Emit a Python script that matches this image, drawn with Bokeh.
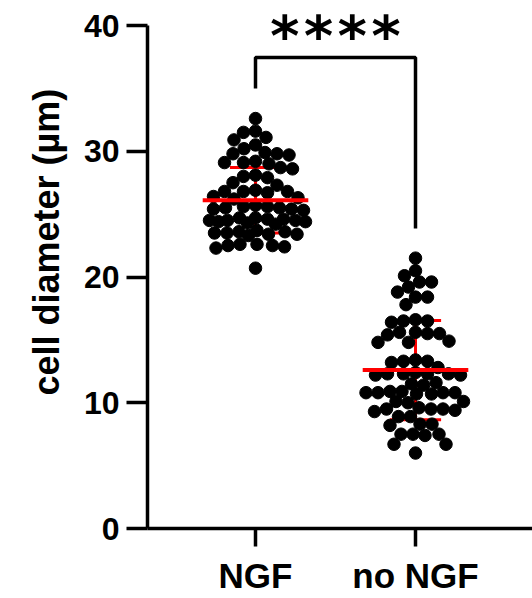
import numpy as np
from bokeh.plotting import figure
from bokeh.models import Range1d, FixedTicker, LinearAxis, Title
from bokeh.core.properties import value
from bokeh.embed import file_html
from bokeh.resources import INLINE

# ---------------- data ----------------
groups = ["NGF", "no NGF"]
group_pos = [1, 2]

ngf = [32.6, 31.6, 31.5, 31.1, 30.9, 30.5, 30.2,
       29.9, 29.8, 29.7, 29.8,
       29.2, 29.1, 29.0, 29.1,
       28.7, 28.6,
       28.1, 28.0, 27.9,
       27.5, 27.3,
       26.9, 26.8, 26.8, 26.7, 26.8,
       26.4, 26.3, 26.2,
       25.7, 25.5, 25.6, 25.4, 25.5, 25.3, 25.6, 25.4,
       24.7, 24.5, 24.6, 24.4, 24.5, 24.3, 24.6, 24.5, 24.4, 24.7, 24.2,
       23.6, 23.5, 23.4, 23.6, 23.5, 23.3, 23.7, 23.4,
       22.6, 22.5, 22.4, 22.6, 22.3, 22.5,
       20.7]

no_ngf = [21.5, 20.5, 20.1, 19.6, 19.6, 19.2, 18.8, 18.4, 18.4, 17.8,
          16.6, 16.5, 16.5, 16.4,
          15.5, 15.6, 15.5, 15.4, 15.6,
          14.8, 14.8, 14.9,
          13.3, 13.4, 13.2, 13.3,
          12.8, 12.3, 12.3, 12.2, 12.3, 12.4, 12.3, 12.2,
          11.5, 11.6, 11.4,
          10.8, 10.8, 10.7, 10.9, 10.8, 10.7, 10.8, 10.9,
          10.1, 10.0, 10.1,
          9.5, 9.4, 9.6, 9.5, 9.3, 9.5,
          8.9, 8.9,
          8.3, 8.3, 8.2,
          7.5, 7.5, 7.4, 7.5,
          6.7, 6.7,
          6.0]

means = [26.1, 12.6]
sds = [2.6, 3.95]

y_ticks = [0, 10, 20, 30, 40]
y_title = "cell diameter (µm)"
stars = "****"
bracket_left_low = 35.0
bracket_right_low = 23.85
bracket_top = 37.45
stars_top = 41.8

# ---------------- layout constants ----------------
W, H = 532, 598
BL, BR, BT, BB = 147, 0, 0, 70
X0 = 0.325
PX_X = 160.0
X1 = X0 + (W - BL - BR) / PX_X
PX_Y = 503.0 / 40.0
Y0 = 0.0
Y1 = (H - BT - BB) / PX_Y
DOT = 12.5


def swarm(vals, d=12.0, half=50.0):
    vals = np.asarray(vals, dtype=float)
    order = np.argsort(vals, kind="stable")[::-1]
    cand = np.arange(-half, half + 0.01, 0.5)
    cand = cand[np.argsort(np.abs(cand), kind="stable")]
    placed = []
    xs = np.zeros(len(vals))
    for i in order:
        y = vals[i] * PX_Y
        near = [(px, py) for px, py in placed if abs(py - y) < d]
        if not near:
            x = 0.0
        else:
            P = np.array(near)
            dist = np.sqrt((cand[:, None] - P[:, 0]) ** 2 + (y - P[:, 1]) ** 2).min(axis=1)
            ok = np.where(dist >= d)[0]
            x = cand[ok[0]] if len(ok) else cand[np.argmax(dist)]
        placed.append((x, y))
        xs[i] = x
    return xs / PX_X


FONT = "Liberation Sans"

p = figure(width=W, height=H, output_backend="svg", toolbar_location=None,
           x_range=Range1d(X0, X1), y_range=Range1d(Y0, Y1),
           min_border_left=BL, min_border_right=BR, min_border_top=BT,
           min_border_bottom=BB, x_axis_type=None, y_axis_type=None)
p.outline_line_color = None
p.grid.visible = False
p.background_fill_color = "white"
p.border_fill_color = "white"

# axes
yaxis = LinearAxis(bounds=(0, 40), ticker=FixedTicker(ticks=y_ticks))
xaxis = LinearAxis(ticker=FixedTicker(ticks=group_pos),
                   major_label_overrides={gp: g for gp, g in zip(group_pos, groups)})
for ax, tick_len, fs, so in ((yaxis, 21, "32px", 7), (xaxis, 18, "35px", 9)):
    ax.axis_line_width = 3.5
    ax.axis_line_color = "black"
    ax.major_tick_line_width = 3.5
    ax.major_tick_line_color = "black"
    ax.major_tick_out = tick_len
    ax.major_tick_in = 0
    ax.minor_tick_line_color = None
    ax.major_label_text_font = FONT
    ax.major_label_text_font_style = "bold"
    ax.major_label_text_font_size = fs
    ax.major_label_text_color = "black"
    ax.major_label_standoff = so
p.add_layout(yaxis, "left")
p.add_layout(xaxis, "below")

# y title (a side title, so it can be nudged up like in the reference)
p.add_layout(Title(text=y_title, align="left", offset=133, standoff=28,
                   text_font=FONT, text_font_style="bold", text_font_size="36px",
                   text_color="black"), "left")

# SD whiskers (behind the dots)
gx = np.array(group_pos, dtype=float)
m = np.array(means)
s = np.array(sds)
p.segment(x0=gx, y0=m - s, x1=gx, y1=m + s, line_color="#ff0000", line_width=3)
p.segment(x0=gx - 0.16, y0=m + s, x1=gx + 0.16, y1=m + s, line_color="#ff0000", line_width=3)
p.segment(x0=gx - 0.16, y0=m - s, x1=gx + 0.16, y1=m - s, line_color="#ff0000", line_width=3)

# dots
for gp, vals in zip(group_pos, (ngf, no_ngf)):
    xs = gp + swarm(vals)
    p.scatter(x=xs, y=vals, size=DOT, fill_color="black", line_color="black")

# mean lines
p.segment(x0=gx - 0.33, y0=m, x1=gx + 0.33, y1=m, line_color="#ff0000", line_width=4)

# significance bracket
p.line(x=[group_pos[0], group_pos[0], group_pos[1], group_pos[1]],
       y=[bracket_left_low, bracket_top, bracket_top, bracket_right_low],
       line_color="black", line_width=3.5)
p.text(x=[(group_pos[0] + group_pos[1]) / 2], y=[stars_top], text=[stars],
       text_font=value("DejaVu Sans Mono"), text_font_style="bold", text_font_size="56px",
       text_align="center", text_baseline="top", text_color="black")

open("out.html", "w").write(file_html(p, INLINE))
